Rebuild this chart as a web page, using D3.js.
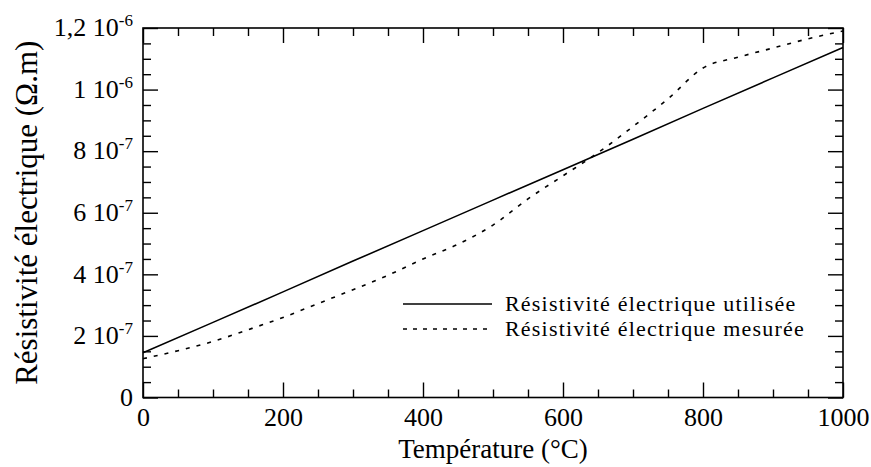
<!DOCTYPE html>
<html>
<head>
<meta charset="utf-8">
<script src="https://cdn.jsdelivr.net/npm/d3@7"></script>
<style>
  body { margin: 0; background: #fff; }
  svg text { font-family: "Liberation Serif", "Times New Roman", serif; fill: #000; }
</style>
</head>
<body>
<div id="chart"></div>
<script>
// temperatures (°C)
const temps = [0, 100, 200, 300, 400, 500, 600, 700, 800, 900, 1000];
// résistivité utilisée (Ohm.m)
const usedRes = [1.45e-7, 2.44e-7, 3.43e-7, 4.43e-7, 5.42e-7, 6.41e-7, 7.40e-7, 8.39e-7, 9.39e-7, 10.38e-7, 11.37e-7];

// résistivité mesurée
const measTemps = [0, 50, 100, 150, 200, 250, 300, 350, 400, 450, 500, 550, 600, 650, 700, 750, 800, 850, 900, 950, 1000];
const measRes = [1.26e-7, 1.52e-7, 1.82e-7, 2.2e-7, 2.6e-7, 3.05e-7, 3.5e-7, 3.97e-7, 4.5e-7, 4.98e-7, 5.6e-7, 6.45e-7, 7.2e-7, 7.95e-7, 8.8e-7, 9.7e-7, 10.7e-7, 11.05e-7, 11.35e-7, 11.65e-7, 11.9e-7];

const xTicks = [0, 200, 400, 600, 800, 1000];
const yTicks = [0, 2e-7, 4e-7, 6e-7, 8e-7, 1e-6, 1.2e-6];
const yMantissa = ["0", "2", "4", "6", "8", "1", "1,2"];
const yExponent = ["", "-7", "-7", "-7", "-7", "-6", "-6"];

const legendNames = ["Résistivité électrique utilisée", "Résistivité électrique mesurée"];

const width = 871;
const height = 467;
const margin = {left: 143, right: 28, top: 28, bottom: 69.5};
const innerW = width - margin.left - margin.right;
const innerH = height - margin.top - margin.bottom;

const svg = d3.select("#chart").append("svg")
  .attr("width", width)
  .attr("height", height);

const g = svg.append("g")
  .attr("transform", `translate(${margin.left},${margin.top})`);

const x = d3.scaleLinear().domain([0, 1000]).range([0, innerW]);
const y = d3.scaleLinear().domain([0, 1.2e-6]).range([innerH, 0]);

const xMinor = d3.range(0, 1001, 50).filter(v => v % 200 !== 0);
const yMinor = d3.range(0, 25).map(i => i * 5e-8).filter((v, i) => i % 4 !== 0);

// frame
g.append("rect")
  .attr("width", innerW)
  .attr("height", innerH)
  .attr("fill", "none")
  .attr("stroke", "#000")
  .attr("stroke-width", 1.6);

function styleAxis(sel) {
  sel.select(".domain").remove();
  sel.selectAll(".tick line").attr("stroke", "#000").attr("stroke-width", 1.4);
}

// bottom axis
g.append("g")
  .attr("transform", `translate(0,${innerH})`)
  .call(d3.axisBottom(x).tickValues(xTicks).tickSize(-15).tickPadding(10).tickFormat(d3.format("d")))
  .call(styleAxis)
  .call(s => s.selectAll("text").attr("font-size", 26).attr("dy", "0.71em"));
g.append("g")
  .attr("transform", `translate(0,${innerH})`)
  .call(d3.axisBottom(x).tickValues(xMinor).tickSize(-8).tickFormat(""))
  .call(styleAxis);

// top axis
g.append("g")
  .call(d3.axisTop(x).tickValues(xTicks).tickSize(-15).tickFormat(""))
  .call(styleAxis);
g.append("g")
  .call(d3.axisTop(x).tickValues(xMinor).tickSize(-8).tickFormat(""))
  .call(styleAxis);

// left axis
const yAxisG = g.append("g")
  .call(d3.axisLeft(y).tickValues(yTicks).tickSize(-15).tickPadding(10))
  .call(styleAxis);
yAxisG.selectAll(".tick text")
  .attr("font-size", 26)
  .attr("dy", "0.3em")
  .text(null)
  .each(function(d, i) {
    const t = d3.select(this);
    t.append("tspan").text(yExponent[i] ? yMantissa[i] + " 10" : yMantissa[i]);
    if (yExponent[i]) {
      t.append("tspan").attr("dy", -10).attr("font-size", 17).text(yExponent[i]);
    }
  });
g.append("g")
  .call(d3.axisLeft(y).tickValues(yMinor).tickSize(-8).tickFormat(""))
  .call(styleAxis);

// right axis
g.append("g")
  .attr("transform", `translate(${innerW},0)`)
  .call(d3.axisRight(y).tickValues(yTicks).tickSize(-15).tickFormat(""))
  .call(styleAxis);
g.append("g")
  .attr("transform", `translate(${innerW},0)`)
  .call(d3.axisRight(y).tickValues(yMinor).tickSize(-8).tickFormat(""))
  .call(styleAxis);

// curves
const line = d3.line().x(d => x(d[0])).y(d => y(d[1]));

g.append("path")
  .datum(temps.map((t, i) => [t, usedRes[i]]))
  .attr("d", line)
  .attr("fill", "none")
  .attr("stroke", "#000")
  .attr("stroke-width", 1.6);

g.append("path")
  .datum(measTemps.map((t, i) => [t, measRes[i]]))
  .attr("d", line.curve(d3.curveMonotoneX))
  .attr("fill", "none")
  .attr("stroke", "#000")
  .attr("stroke-width", 1.6)
  .attr("stroke-dasharray", "4,7");

// legend
const legend = g.append("g").attr("transform", `translate(${403 - margin.left},${304 - margin.top})`);
legendNames.forEach((name, i) => {
  const row = legend.append("g").attr("transform", `translate(0,${i * 25})`);
  row.append("line")
    .attr("x1", 0).attr("x2", 89)
    .attr("stroke", "#000")
    .attr("stroke-width", 1.4)
    .attr("stroke-dasharray", i === 0 ? null : "4,6");
  row.append("text")
    .attr("x", 102)
    .attr("dy", "0.32em")
    .attr("font-size", 22)
    .attr("letter-spacing", 1.2)
    .text(name);
});

// axis titles
svg.append("text")
  .attr("x", margin.left + innerW / 2)
  .attr("y", 458)
  .attr("text-anchor", "middle")
  .attr("font-size", 27)
  .text("Température (°C)");

svg.append("text")
  .attr("transform", `translate(37,${margin.top + innerH / 2}) rotate(-90)`)
  .attr("text-anchor", "middle")
  .attr("font-size", 31)
  .text("Résistivité électrique (Ω.m)");
</script>
</body>
</html>
